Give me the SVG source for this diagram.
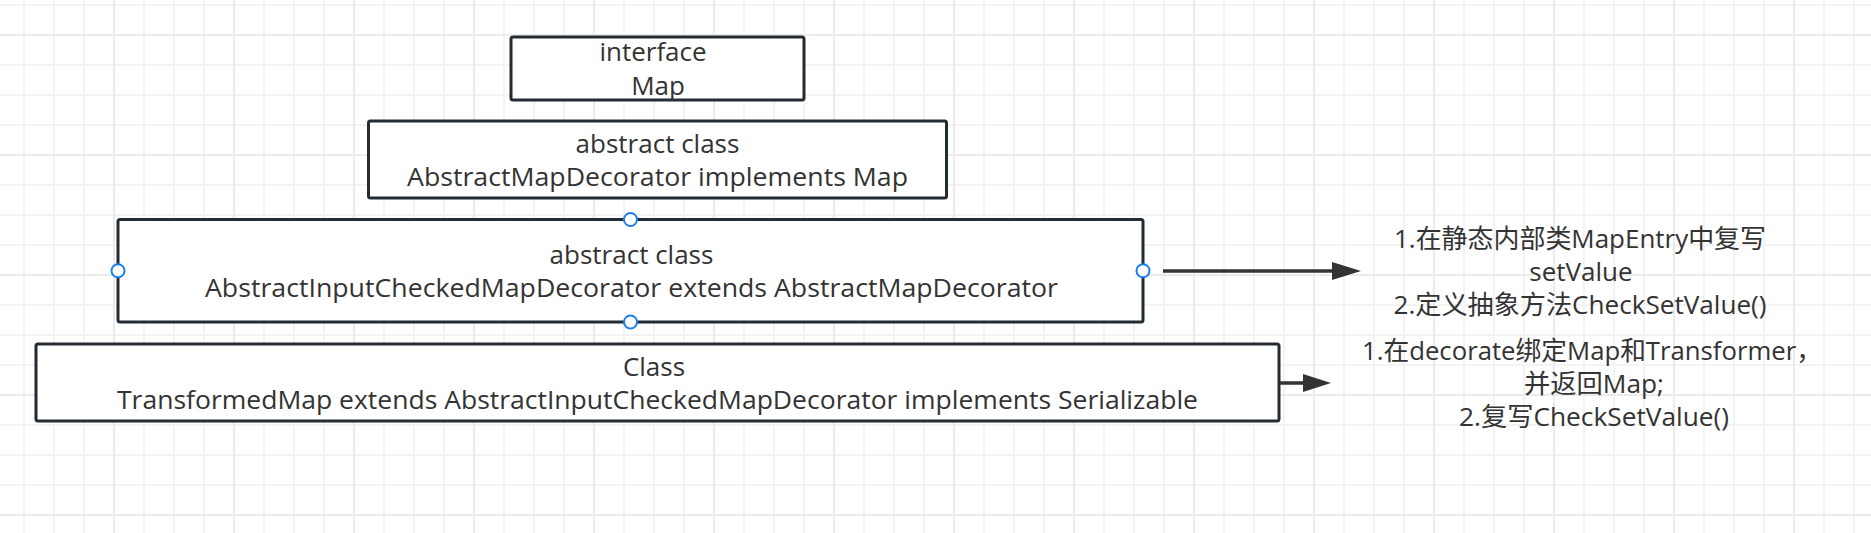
<svg xmlns="http://www.w3.org/2000/svg" width="1871" height="533" viewBox="0 0 1871 533">
  <style>
    .box { fill: #ffffff; stroke: #232b33; stroke-width: 3; }
    .t { font-family: "Open Sans", "Noto Sans CJK SC", sans-serif; font-size: 26px; fill: #333333; text-anchor: middle; }
    .handle { fill: #ffffff; stroke: #1a7ff0; stroke-width: 2; }
    .edge { stroke: #333333; stroke-width: 3.5; fill: none; }
    .head { fill: #333333; }
  </style>
  <defs>
    <pattern id="minor" patternUnits="userSpaceOnUse" x="9" y="-10" width="30" height="30">
      <path d="M15 0V30M0 15H30" stroke="#f3f3f3" stroke-width="2" fill="none"/>
    </pattern>
    <pattern id="major" patternUnits="userSpaceOnUse" x="54" y="-25" width="120" height="120">
      <path d="M60 0V120M0 60H120" stroke="#ebebeb" stroke-width="2" fill="none"/>
    </pattern>
  </defs>
  <rect width="1871" height="533" fill="#ffffff"/>
  <rect width="1871" height="533" fill="url(#minor)"/>
  <rect width="1871" height="533" fill="url(#major)"/>

  <g id="node-map">
    <rect class="box" x="511" y="37" width="293" height="63" rx="2"/>
    <text class="t" x="653" y="61">interface</text>
    <text class="t" x="658" y="94.5">Map</text>
  </g>

  <g id="node-abstract-map-decorator">
    <rect class="box" x="368.5" y="121" width="578" height="77" rx="2"/>
    <text class="t" x="657.5" y="153">abstract class</text>
    <text class="t" x="657.5" y="186" textLength="501" lengthAdjust="spacingAndGlyphs">AbstractMapDecorator implements Map</text>
  </g>

  <g id="node-abstract-input-checked">
    <rect class="box" x="118" y="219.5" width="1025" height="102.5" rx="2"/>
    <text class="t" x="631.5" y="264">abstract class</text>
    <text class="t" x="631.5" y="296.5" textLength="853" lengthAdjust="spacingAndGlyphs">AbstractInputCheckedMapDecorator extends AbstractMapDecorator</text>
    <circle class="handle" cx="630.5" cy="219.5" r="6.5"/>
    <circle class="handle" cx="630.5" cy="322" r="6.5"/>
    <circle class="handle" cx="118" cy="270.75" r="6.5"/>
    <circle class="handle" cx="1143" cy="270.75" r="6.5"/>
  </g>

  <g id="node-transformed-map">
    <rect class="box" x="36" y="344" width="1243" height="77" rx="2"/>
    <text class="t" x="654" y="376">Class</text>
    <text class="t" x="657.5" y="408.5" textLength="1081" lengthAdjust="spacingAndGlyphs">TransformedMap extends AbstractInputCheckedMapDecorator implements Serializable</text>
  </g>

  <g id="note-1">
    <text class="t" x="1580" y="248" textLength="372" lengthAdjust="spacingAndGlyphs">1.在静态内部类MapEntry中复写</text>
    <text class="t" x="1581" y="281">setValue</text>
    <text class="t" x="1580" y="314" textLength="373" lengthAdjust="spacingAndGlyphs">2.定义抽象方法CheckSetValue()</text>
  </g>

  <g id="note-2">
    <text class="t" x="1592" y="360" textLength="460" lengthAdjust="spacingAndGlyphs">1.在decorate绑定Map和Transformer，</text>
    <text class="t" x="1594" y="393" textLength="140" lengthAdjust="spacingAndGlyphs">并返回Map;</text>
    <text class="t" x="1594" y="426" textLength="270" lengthAdjust="spacingAndGlyphs">2.复写CheckSetValue()</text>
  </g>

  <g id="connectors">
    <line class="edge" x1="1163" y1="271" x2="1334" y2="271"/>
    <polygon class="head" points="1332,262 1361,271 1332,280"/>
    <line class="edge" x1="1280" y1="383" x2="1305" y2="383"/>
    <polygon class="head" points="1303,374 1331,383 1303,392"/>
  </g>
</svg>
